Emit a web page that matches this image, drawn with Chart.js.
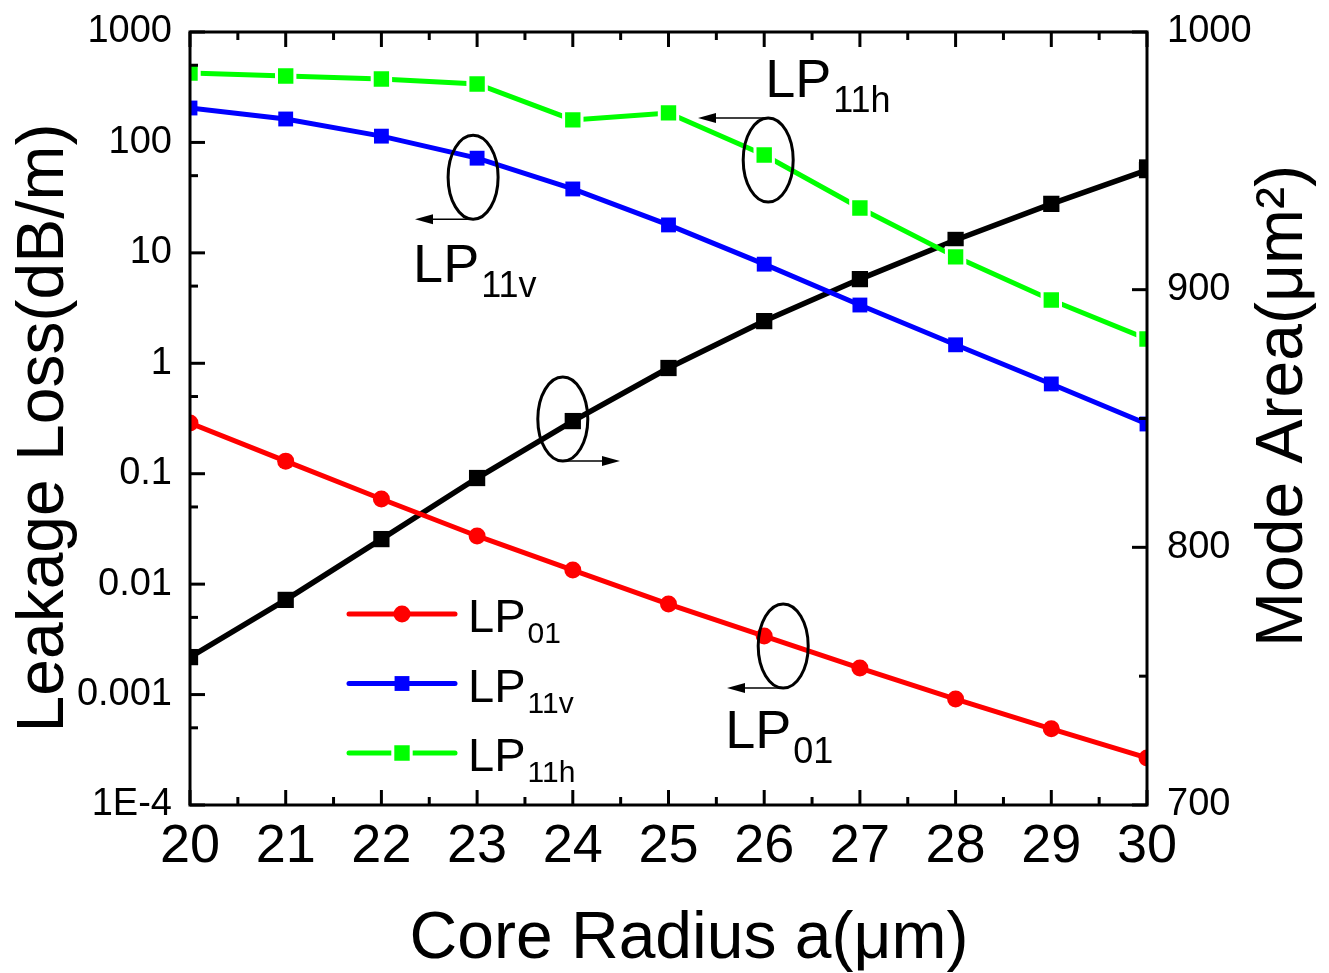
<!DOCTYPE html>
<html>
<head>
<meta charset="utf-8">
<title>Leakage loss and mode area vs core radius</title>
<script src="https://cdn.jsdelivr.net/npm/chart.js@4.4.1/dist/chart.umd.min.js"></script>
<style>
  html, body { margin: 0; padding: 0; background: #fff; }
  #wrap { width: 1329px; height: 973px; }
</style>
</head>
<body>
<div id="wrap"><canvas id="chart" width="1329" height="973"></canvas></div>
<script>
// ---- data ----
const coreRadius = [20, 21, 22, 23, 24, 25, 26, 27, 28, 29, 30];
const lossLP01  = [0.288, 0.130, 0.059, 0.0273, 0.0134, 0.0066, 0.00339, 0.00174, 0.00091, 0.00049, 0.000267];
const lossLP11v = [205, 163, 114, 72, 37.9, 17.9, 7.9, 3.37, 1.47, 0.65, 0.282];
const lossLP11h = [425, 400, 375, 338, 160, 185, 77, 25.5, 9.2, 3.74, 1.66];
const modeArea  = [757.4, 779.6, 803.2, 826.9, 849.0, 869.6, 887.8, 904.1, 919.3, 933.3, 946.4];

const lossTicks = [1e-4, 1e-3, 1e-2, 1e-1, 1, 10, 100, 1000];
const lossTickLabels = ['1E-4', '0.001', '0.01', '0.1', '1', '10', '100', '1000'];

const FONT = '"Liberation Sans", Arial, Helvetica, sans-serif';

const toPoints = (vals) => vals.map((v, i) => ({ x: coreRadius[i], y: v }));

// callouts: ellipse around a point, with a little arrow showing which axis it uses
const callouts = [
  { ds: 1, index: 3, dx: -4, dy: 19, arrow: 'left',  arrowEnd: 415, at: 'bottom', label: ['LP', '11v'], lx: -64, ly: 124 },
  { ds: 2, index: 6, dx: 4,  dy: 5,  arrow: 'left',  arrowEnd: 698, at: 'top',    label: ['LP', '11h'], lx: 1,   ly: -58 },
  { ds: 3, index: 4, dx: -10, dy: -2, arrow: 'right', arrowEnd: 620, at: 'bottom', label: null },
  { ds: 0, index: 6, dx: 19, dy: 10, arrow: 'left',  arrowEnd: 727, at: 'bottom', label: ['LP', '01'], lx: -39, ly: 112 }
];

function subText(ctx, main, sub, x, y, size, subSize, drop) {
  ctx.font = size + 'px ' + FONT;
  ctx.textAlign = 'left';
  ctx.textBaseline = 'alphabetic';
  ctx.fillText(main, x, y);
  const w = ctx.measureText(main).width;
  ctx.font = subSize + 'px ' + FONT;
  ctx.fillText(sub, x + w + 2, y + drop);
}

function seg(ctx, x1, y1, x2, y2) {
  ctx.beginPath();
  ctx.moveTo(x1, y1);
  ctx.lineTo(x2, y2);
  ctx.stroke();
}

const decorPlugin = {
  id: 'decor',
  afterDatasetsDraw(chart) {
    const { ctx, chartArea: a, scales } = chart;
    ctx.save();
    ctx.strokeStyle = '#000';
    ctx.fillStyle = '#000';
    ctx.lineCap = 'butt';

    // frame
    ctx.lineWidth = 3;
    ctx.strokeRect(a.left, a.top, a.right - a.left, a.bottom - a.top);

    // inward ticks, bottom + top
    for (let v = 20; v <= 30; v += 0.5) {
      const px = scales.x.getPixelForValue(v);
      const len = Number.isInteger(v) ? 15 : 8;
      seg(ctx, px, a.bottom, px, a.bottom - len);
      seg(ctx, px, a.top, px, a.top + len);
    }
    // left log axis
    lossTicks.forEach((v, i) => {
      const py = scales.y.getPixelForValue(v);
      seg(ctx, a.left, py, a.left + 15, py);
      if (i < lossTicks.length - 1) {
        const pm = scales.y.getPixelForValue(v * 5);
        seg(ctx, a.left, pm, a.left + 8, pm);
      }
    });
    // right linear axis
    for (let v = 700; v <= 1000; v += 50) {
      const py = scales.y1.getPixelForValue(v);
      const len = v % 100 === 0 ? 15 : 8;
      seg(ctx, a.right, py, a.right - len, py);
    }

    // callouts
    callouts.forEach(c => {
      const pt = chart.getDatasetMeta(c.ds).data[c.index];
      const cx = pt.x + c.dx, cy = pt.y + c.dy;
      const rx = 25, ry = 42;
      ctx.lineWidth = 3;
      ctx.beginPath();
      ctx.ellipse(cx, cy, rx, ry, 0, 0, Math.PI * 2);
      ctx.stroke();
      const ay = c.at === 'top' ? cy - ry : cy + ry;
      const dir = c.arrow === 'left' ? -1 : 1;
      ctx.lineWidth = 1.5;
      seg(ctx, cx, ay, c.arrowEnd - dir * 14, ay);
      ctx.beginPath();
      ctx.moveTo(c.arrowEnd, ay);
      ctx.lineTo(c.arrowEnd - dir * 18, ay - 5);
      ctx.lineTo(c.arrowEnd - dir * 18, ay + 5);
      ctx.closePath();
      ctx.fill();
      if (c.label) subText(ctx, c.label[0], c.label[1], pt.x + c.lx, pt.y + c.ly, 54, 36, 15);
    });

    // legend
    [0, 1, 2].forEach((dsIdx, r) => {
      const ds = chart.data.datasets[dsIdx];
      const y = 614 + r * 69.5;
      ctx.strokeStyle = ds.borderColor;
      ctx.lineWidth = 5;
      ctx.lineCap = 'round';
      seg(ctx, 349, y, 455, y);
      ctx.lineCap = 'butt';
      ctx.fillStyle = ds.pointBackgroundColor;
      ctx.strokeStyle = ds.pointBorderColor;
      ctx.lineWidth = ds.pointBorderWidth;
      Chart.helpers.drawPoint(ctx, {
        pointStyle: ds.pointStyle,
        radius: ds.pointRadius,
        borderWidth: ds.pointBorderWidth,
        rotation: 0
      }, 402, y);
      ctx.fillStyle = '#000';
      const parts = ds.label.split('_');
      subText(ctx, parts[0], parts[1], 468, y + 18, 47, 30, 11);
    });

    // axis titles
    ctx.fillStyle = '#000';
    ctx.font = '66px ' + FONT;
    ctx.textAlign = 'center';
    ctx.textBaseline = 'alphabetic';
    ctx.fillText('Core Radius a(\u03bcm)', 689, 958);

    ctx.save();
    ctx.translate(63, 428);
    ctx.rotate(-Math.PI / 2);
    ctx.fillText('Leakage Loss(dB/m)', 0, 0);
    ctx.restore();

    ctx.save();
    ctx.translate(1302, 406);
    ctx.rotate(-Math.PI / 2);
    ctx.fillText('Mode Area(\u03bcm\u00b2)', 0, 0);
    ctx.restore();

    ctx.restore();
  }
};

const lineDs = (label, vals, color, style, axis, extra) => Object.assign({
  label: label,
  data: toPoints(vals),
  yAxisID: axis,
  borderColor: color,
  backgroundColor: color,
  pointBackgroundColor: color,
  pointBorderColor: color,
  pointBorderWidth: 0,
  pointStyle: style,
  pointRadius: style === 'circle' ? 8.5 : 10.5,
  borderWidth: 5,
  tension: 0,
  clip: 0
}, extra || {});

// keep the plot frame where the figure has it, not where label overflow would push it
const noOverflow = (s) => { s.paddingTop = 0; s.paddingBottom = 0; s.paddingLeft = 0; s.paddingRight = 0; };

new Chart(document.getElementById('chart'), {
  type: 'line',
  data: {
    datasets: [
      lineDs('LP_01', lossLP01, '#ff0000', 'circle', 'y'),
      lineDs('LP_11v', lossLP11v, '#0000ff', 'rect', 'y'),
      lineDs('LP_11h', lossLP11h, '#00ff00', 'rect', 'y', { pointBorderColor: '#ffffff', pointBorderWidth: 3, pointRadius: 13 }),
      lineDs('Mode area', modeArea, '#000000', 'rect', 'y1', { pointRadius: 11.5, borderWidth: 5.5 })
    ]
  },
  options: {
    responsive: false,
    animation: false,
    devicePixelRatio: 1,
    layout: { padding: { top: 32, left: 0, right: 0, bottom: 0 } },
    plugins: { legend: { display: false }, tooltip: { enabled: false } },
    scales: {
      x: {
        type: 'linear',
        min: 20, max: 30,
        grid: { display: false, drawTicks: false },
        border: { display: false },
        ticks: { stepSize: 1, padding: 10, color: '#000', font: { family: FONT, size: 54 } },
        afterFit: (s) => { noOverflow(s); s.height = 168; }
      },
      y: {
        type: 'logarithmic',
        position: 'left',
        min: 1e-4, max: 1000,
        grid: { display: false, drawTicks: false },
        border: { display: false },
        afterBuildTicks: (s) => { s.ticks = lossTicks.map(v => ({ value: v })); },
        ticks: {
          padding: 18, color: '#000', font: { family: FONT, size: 38 },
          callback: (v) => { const i = lossTicks.indexOf(v); return i >= 0 ? lossTickLabels[i] : ''; }
        },
        afterFit: (s) => { noOverflow(s); s.width = 190; }
      },
      y1: {
        type: 'linear',
        position: 'right',
        min: 700, max: 1000,
        grid: { display: false, drawTicks: false },
        border: { display: false },
        ticks: {
          stepSize: 100, padding: 20, color: '#000', font: { family: FONT, size: 38 },
          callback: (v) => String(v)
        },
        afterFit: (s) => { noOverflow(s); s.width = 182; }
      }
    }
  },
  plugins: [decorPlugin]
});
</script>
</body>
</html>
